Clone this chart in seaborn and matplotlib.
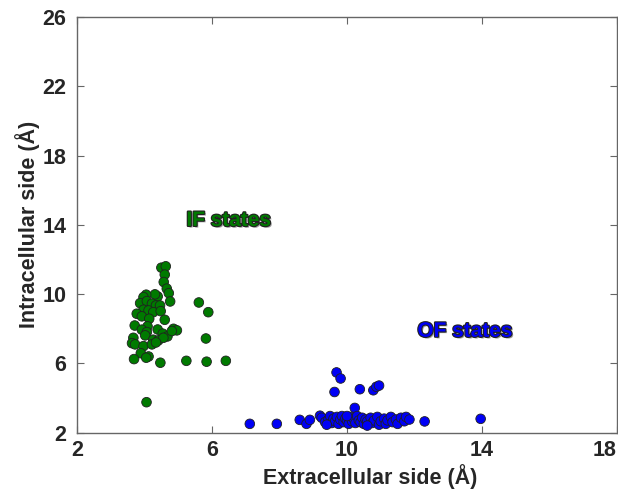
import numpy as np
import pandas as pd
import matplotlib
matplotlib.use("Agg")
import matplotlib.pyplot as plt
import matplotlib.patheffects as pe
import seaborn as sns

if_x = [4.50, 4.63, 4.60, 4.57, 4.66, 4.72, 4.76, 4.39, 4.31, 4.05, 3.97, 3.87, 4.07, 4.22,
        4.34, 4.46, 3.97, 4.12, 4.26, 4.48, 3.77, 3.92, 4.14, 3.71, 4.09, 4.60, 4.39, 3.92,
        4.07, 4.54, 4.68, 4.86, 4.96, 4.81, 4.02, 3.67, 4.26, 4.41, 4.56, 3.63, 3.72, 3.97,
        4.22, 4.34, 3.89, 4.12, 4.05, 3.69, 4.47, 5.24, 5.84, 6.41, 5.61, 5.89, 5.82, 4.06]
if_y = [11.52, 11.60, 11.12, 10.69, 10.31, 10.05, 9.57, 9.86, 9.98, 9.96, 9.82, 9.47, 9.59, 9.44,
        9.34, 9.34, 9.09, 9.05, 8.95, 9.01, 8.86, 8.71, 8.57, 8.18, 8.13, 8.51, 7.95, 7.94,
        7.80, 7.71, 7.55, 7.99, 7.90, 7.86, 7.61, 7.47, 7.36, 7.32, 7.47, 7.16, 7.09, 6.99,
        7.09, 7.20, 6.58, 6.39, 6.32, 6.24, 6.03, 6.14, 6.09, 6.14, 9.51, 8.95, 7.43, 3.75]

of_x = [7.12, 7.92, 8.60, 8.80, 8.90, 9.20, 9.69, 9.81, 9.63, 10.38, 10.78, 10.87, 10.95, 10.23,
        12.30, 13.96,
        9.25, 9.35, 9.45, 9.50, 9.55, 9.60, 9.65, 9.70, 9.75, 9.80, 9.85, 9.90, 9.95, 10.00,
        10.05, 10.10, 10.15, 10.20, 10.25, 10.30, 10.35, 10.40, 10.45, 10.50, 10.55, 10.60,
        10.70, 10.75, 10.80, 10.90, 10.95, 11.00, 11.10, 11.15, 11.20, 11.30, 11.35, 11.45,
        11.50, 11.60, 11.70, 11.75, 11.85, 9.40, 10.00, 10.60]
of_y = [2.50, 2.50, 2.73, 2.50, 2.73, 2.97, 5.47, 5.12, 4.34, 4.50, 4.44, 4.64, 4.71, 3.42,
        2.64, 2.79,
        2.85, 2.60, 2.75, 2.95, 2.55, 2.80, 2.65, 2.90, 2.50, 2.75, 2.95, 2.60, 2.80, 2.70,
        2.50, 2.90, 2.65, 2.80, 2.55, 2.95, 2.70, 2.60, 2.85, 2.50, 2.75, 2.65,
        2.85, 2.55, 2.70, 2.90, 2.45, 2.65, 2.80, 2.50, 2.70, 2.90, 2.60, 2.75,
        2.50, 2.85, 2.65, 2.90, 2.75, 2.45, 2.95, 2.40]

x_ticks = [2, 6, 10, 14, 18]
y_ticks = [2, 6, 10, 14, 18, 22, 26]

df = pd.DataFrame({
    "x": if_x + of_x,
    "y": if_y + of_y,
    "state": ["IF"] * len(if_x) + ["OF"] * len(of_x),
})

sns.set_style("white")
plt.rcParams["font.family"] = ["Liberation Sans", "DejaVu Sans"]

fig = plt.figure(figsize=(6.18, 4.90), dpi=100)
ax = fig.add_axes([77 / 618, 1 - 432.5 / 490, (617 - 77) / 618, (432.5 - 17) / 490])

sns.scatterplot(data=df, x="x", y="y", hue="state",
                palette={"IF": "#007a00", "OF": "#0000f5"},
                s=48, edgecolor="#202020", linewidth=0.6, legend=False, ax=ax, zorder=3)

ax.set_xlim(2, 18)
ax.set_ylim(2, 26)
ax.set_xticks(x_ticks)
ax.set_yticks(y_ticks)
ax.set_xticklabels([str(t) for t in x_ticks], fontsize=15.5, fontweight="bold")
ax.set_yticklabels([str(t) for t in y_ticks], fontsize=15.5, fontweight="bold")
ax.tick_params(axis="x", pad=5.5)
ax.tick_params(axis="y", pad=7.5)
ax.tick_params(direction="in", length=5, width=0.8, color="#666666",
               top=True, right=True, bottom=True, left=True)
for sp in ax.spines.values():
    sp.set_color("#666666")
    sp.set_linewidth(1.0)

# last x tick label kept inside the figure, as in the reference
ax.get_xticklabels()[-1].set_horizontalalignment("right")

ax.set_xlabel("Extracellular side (Å)", fontsize=15.5, fontweight="bold", labelpad=2)
ax.xaxis.label.set_x(0.543)
ax.set_ylabel("Intracellular side (Å)", fontsize=15.5, fontweight="bold", labelpad=2)

outline = [pe.withSimplePatchShadow(offset=(1.2, -1.2), shadow_rgbFace="#888888", alpha=0.8),
           pe.withStroke(linewidth=1.6, foreground="#222222")]
ax.text(6.5, 14.25, "IF states", color="#007a00", fontsize=15, fontweight="bold",
        ha="center", va="center", path_effects=outline)
ax.text(13.5, 7.85, "OF states", color="#0000f5", fontsize=15, fontweight="bold",
        ha="center", va="center", path_effects=outline)

fig.savefig("out.png", dpi=100, facecolor="white")
